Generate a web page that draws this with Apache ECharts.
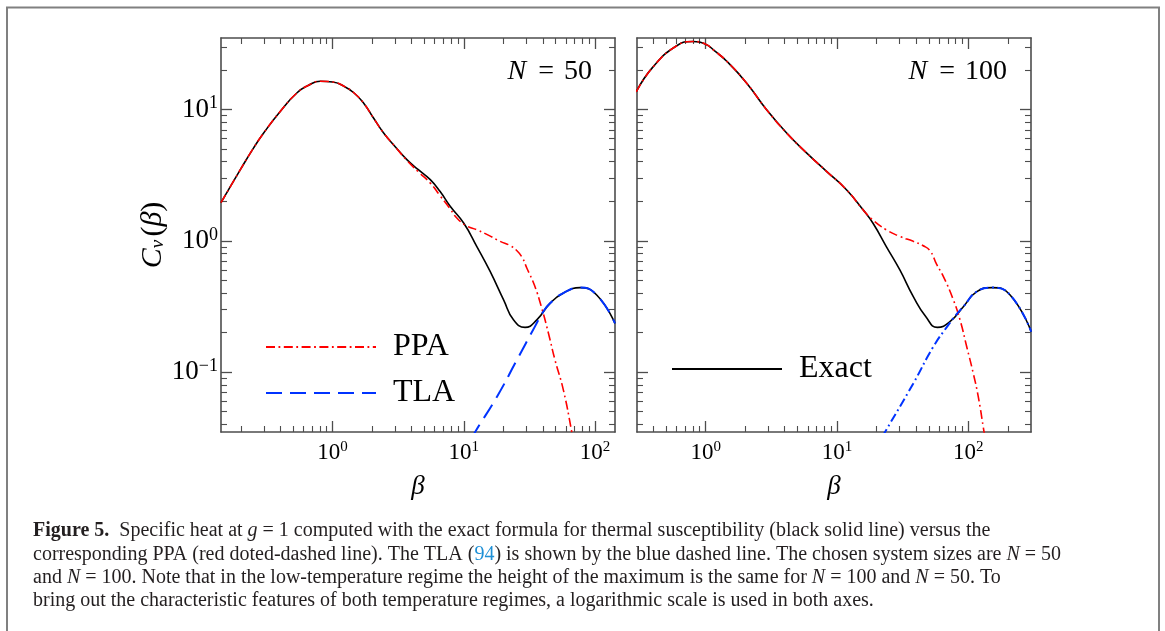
<!DOCTYPE html>
<html>
<head>
<meta charset="utf-8">
<style>
  html, body { margin: 0; padding: 0; background: #fff; }
  #chart { width: 1165px; height: 631px; }
</style>
<script src="https://cdn.jsdelivr.net/npm/echarts@6/dist/echarts.min.js"></script>
</head>
<body>
<div id="chart"></div>
<script>
"use strict";

// ---- values: beta and C_v(beta) ----
// N = 50 panel
const betaExact50 = [0.141, 0.198, 0.25, 0.299, 0.4, 0.536, 0.65, 0.805, 1.0, 1.21, 1.45, 1.72, 2.05, 2.44, 3.0, 3.68, 4.5, 5.55, 6.6, 7.87, 10.0, 12.6, 15.8, 20.1, 23.9, 29.3, 36.0, 45.4, 57.4, 76.9, 103, 142];
const cvExact50 = [1.95, 3.48, 5.1, 6.64, 9.7, 13.4, 15.2, 16.4, 16.2, 15.1, 13.4, 11.2, 8.6, 6.65, 5.2, 4.15, 3.48, 2.92, 2.37, 1.83, 1.36, 0.9, 0.59, 0.355, 0.25, 0.219, 0.25, 0.334, 0.4, 0.44, 0.387, 0.235];

const betaPpa50 = [0.141, 0.198, 0.25, 0.299, 0.4, 0.536, 0.65, 0.805, 1.0, 1.21, 1.45, 1.72, 2.05, 2.44, 3.0, 3.68, 4.5, 5.55, 6.6, 7.87, 8.85, 10.5, 12.6, 15.5, 18.9, 22.5, 25.4, 28.0, 30.2, 34.5, 39.3, 44.2, 49.5, 57.4, 66.5, 70];
const cvPpa50 = [1.95, 3.48, 5.1, 6.64, 9.7, 13.4, 15.2, 16.4, 16.2, 15.1, 13.4, 11.2, 8.6, 6.65, 5.2, 4.1, 3.35, 2.75, 2.2, 1.75, 1.49, 1.3, 1.21, 1.1, 0.99, 0.92, 0.84, 0.74, 0.62, 0.46, 0.306, 0.197, 0.124, 0.073, 0.035, 0.026];

const betaTla50 = [11.5, 12.2, 17.9, 25.4, 34.8, 40.0, 45.4, 57.4, 76.9, 103, 142];
const cvTla50 = [0.031, 0.035, 0.065, 0.124, 0.222, 0.285, 0.334, 0.4, 0.44, 0.387, 0.235];

// N = 100 panel
const betaExact100 = [0.296, 0.396, 0.598, 0.8, 1.0, 1.17, 1.44, 2.04, 2.9, 4.12, 5.86, 8.32, 11.8, 15.8, 18.8, 23.8, 30.1, 38.1, 47.5, 58.1, 72.4, 91.6, 116, 151, 208, 301];
const cvExact100 = [13.6, 21.0, 30.4, 32.9, 31.4, 27.9, 23.4, 16.0, 10.0, 6.64, 4.67, 3.38, 2.45, 1.72, 1.36, 0.9, 0.6, 0.376, 0.264, 0.219, 0.242, 0.315, 0.41, 0.44, 0.387, 0.203];

const betaPpa100 = [0.296, 0.396, 0.598, 0.8, 1.0, 1.17, 1.44, 2.04, 2.9, 4.12, 5.86, 8.32, 11.8, 15.8, 18.3, 23.8, 30.0, 38.1, 45.0, 51.1, 57.4, 64.6, 76.9, 86.5, 97.2, 109, 119, 130, 135];
const cvPpa100 = [13.6, 21.0, 30.4, 32.9, 31.4, 27.9, 23.4, 16.0, 10.0, 6.64, 4.67, 3.38, 2.45, 1.72, 1.47, 1.21, 1.08, 0.99, 0.92, 0.84, 0.66, 0.534, 0.355, 0.249, 0.156, 0.098, 0.065, 0.038, 0.03];

const betaTla100 = [22, 23.2, 38.1, 54.1, 70.5, 80, 91.6, 116, 151, 208, 301];
const cvTla100 = [0.032, 0.035, 0.082, 0.156, 0.229, 0.27, 0.315, 0.41, 0.44, 0.387, 0.203];

// axis limits and tick positions
const xLimits50 = [0.141, 142];
const xLimits100 = [0.3, 300];
const yLimits = [0.035, 35];
const decadeExponents = [-2, -1, 0, 1, 2, 3];
const minorMultipliers = [2, 3, 4, 5, 6, 7, 8, 9];

const panelLabels = ["50", "100"];

const captionLines = [
  [["b", "Figure 5."], ["r", "  Specific heat at "], ["i", "g"], ["r", " = 1 computed with the exact formula for thermal susceptibility (black solid line) versus the"]],
  [["r", "corresponding PPA (red doted-dashed line). The TLA ("], ["l", "94"], ["r", ") is shown by the blue dashed line. The chosen system sizes are "], ["i", "N"], ["r", " = 50"]],
  [["r", "and "], ["i", "N"], ["r", " = 100. Note that in the low-temperature regime the height of the maximum is the same for "], ["i", "N"], ["r", " = 100 and "], ["i", "N"], ["r", " = 50. To"]],
  [["r", "bring out the characteristic features of both temperature regimes, a logarithmic scale is used in both axes."]],
];

const SERIF = "'Liberation Serif', 'DejaVu Serif', serif";
const AXIS_COLOR = "#4d4d4d";

const lg = Math.log10;
const toPoints = (xs, ys) => xs.map((x, i) => [lg(x), lg(ys[i])]);

const majorTicks = (lim) =>
  decadeExponents.filter((e) => e >= lg(lim[0]) && e <= lg(lim[1]));

const minorTicks = (lim) => {
  const out = [];
  decadeExponents.forEach((e) =>
    minorMultipliers.forEach((m) => {
      const v = e + lg(m);
      if (v > lg(lim[0]) && v < lg(lim[1])) out.push(v);
    })
  );
  return out;
};

const powerLabel = (v) => {
  const e = Math.round(v);
  return "{b|10}{s|" + (e < 0 ? "\u2212" + -e : e) + "}";
};

const powerRich = (size, sup) => ({
  b: { fontFamily: SERIF, fontSize: size, lineHeight: size + 3, color: "#000" },
  s: { fontFamily: SERIF, fontSize: sup, lineHeight: sup, verticalAlign: "top", color: "#000" },
});

const xAxes = [];
const yAxes = [];

// one side of a panel frame: major ticks (+ labels) and a second axis for minor ticks
function sideAxes(list, gridIndex, lim, position, extra) {
  const base = {
    type: "value",
    gridIndex: gridIndex,
    position: position,
    min: lg(lim[0]),
    max: lg(lim[1]),
    splitLine: { show: false },
  };
  list.push(Object.assign({}, base, {
    axisLine: { show: true, onZero: false, lineStyle: { color: AXIS_COLOR, width: 1.6 } },
    axisTick: { show: true, inside: true, length: 11, customValues: majorTicks(lim), lineStyle: { color: AXIS_COLOR, width: 1.3 } },
    axisLabel: { show: false },
  }, extra || {}));
  const major = list.length - 1;
  list.push(Object.assign({}, base, {
    axisLine: { show: false, onZero: false },
    axisTick: { show: true, inside: true, length: 6, customValues: minorTicks(lim), lineStyle: { color: AXIS_COLOR, width: 1.1 } },
    axisLabel: { show: false },
  }));
  return major;
}

const bottomLabels = (lim) => ({
  axisLabel: { show: true, margin: 8, customValues: majorTicks(lim), formatter: powerLabel, rich: powerRich(23, 15) },
  name: "{i|\u03b2}",
  nameLocation: "middle",
  nameGap: 41,
  nameTextStyle: { rich: { i: { fontFamily: SERIF, fontStyle: "italic", fontSize: 27, color: "#000" } } },
});

const leftLabels = (lim) => ({
  axisLabel: { show: true, margin: 3, customValues: majorTicks(lim), formatter: powerLabel, rich: powerRich(27, 18) },
  name: "{i|C}{v|v} {t|(}{i|\u03b2}{t|)}",
  nameLocation: "middle",
  nameRotate: 90,
  nameGap: 48,
  nameTextStyle: {
    rich: {
      i: { fontFamily: SERIF, fontStyle: "italic", fontSize: 30, color: "#000" },
      v: { fontFamily: SERIF, fontStyle: "italic", fontSize: 19, color: "#000", verticalAlign: "bottom", lineHeight: 26 },
      t: { fontFamily: SERIF, fontSize: 30, color: "#000" },
    },
  },
});

const xLimits = [xLimits50, xLimits100];
const axisIndex = xLimits.map((lim, g) => {
  const x = sideAxes(xAxes, g, lim, "bottom", bottomLabels(lim));
  sideAxes(xAxes, g, lim, "top");
  const y = sideAxes(yAxes, g, yLimits, "left", g === 0 ? leftLabels(yLimits) : null);
  sideAxes(yAxes, g, yLimits, "right");
  return { x, y };
});

const DASH_DOT = [9, 3.5, 1.8, 3.5];
const DASHED = [16, 8];

function curve(name, g, xs, ys, color, dash, width, z) {
  return {
    type: "line",
    name: name,
    xAxisIndex: axisIndex[g].x,
    yAxisIndex: axisIndex[g].y,
    data: toPoints(xs, ys),
    symbol: "none",
    showSymbol: false,
    smooth: 0.5,
    clip: true,
    silent: true,
    z: z,
    lineStyle: { color: color, width: width, type: dash },
    itemStyle: { color: color },
  };
}

const series = [
  curve("Exact", 0, betaExact50, cvExact50, "#000000", "solid", 1.6, 2),
  curve("PPA", 0, betaPpa50, cvPpa50, "#ff0000", DASH_DOT, 1.6, 3),
  curve("TLA", 0, betaTla50, cvTla50, "#0033ff", DASHED, 2, 4),
  curve("Exact", 1, betaExact100, cvExact100, "#000000", "solid", 1.6, 2),
  curve("PPA", 1, betaPpa100, cvPpa100, "#ff0000", DASH_DOT, 1.6, 3),
  curve("TLA", 1, betaTla100, cvTla100, "#0033ff", DASH_DOT, 2, 4),
];

// graphic text uses zrender style names (fill, not color)
const CAPTION_SIZE = 20;
const captionRich = {
  r: { fontFamily: SERIF, fontSize: CAPTION_SIZE, fill: "#231f20" },
  i: { fontFamily: SERIF, fontSize: CAPTION_SIZE, fontStyle: "italic", fill: "#231f20" },
  b: { fontFamily: SERIF, fontSize: CAPTION_SIZE, fontWeight: "bold", fill: "#231f20" },
  l: { fontFamily: SERIF, fontSize: CAPTION_SIZE, fill: "#1e90d6" },
};

const graphic = [
  {
    type: "rect",
    silent: true,
    shape: { x: 7, y: 7.5, width: 1152, height: 660 },
    style: { fill: "none", stroke: "#808080", lineWidth: 2 },
  },
].concat(
  captionLines.map((line, k) => ({
    type: "text",
    silent: true,
    x: 33,
    y: 531 + k * 23.3,
    style: {
      text: line.map((seg) => "{" + seg[0] + "|" + seg[1] + "}").join(""),
      rich: captionRich,
      fill: "#231f20",
      verticalAlign: "middle",
    },
  }))
);

const legendText = { fontFamily: SERIF, fontSize: 32, lineHeight: 34, color: "#000", padding: [0, 0, 0, 12] };
const legendBase = {
  orient: "vertical",
  padding: 0,
  itemWidth: 110,
  itemHeight: 14,
  itemGap: 12,
  selectedMode: false,
  itemStyle: { opacity: 0, borderWidth: 0 },
  textStyle: legendText,
};

const panelTextRich = {
  i: { fontFamily: SERIF, fontStyle: "italic", fontSize: 28, lineHeight: 30, color: "#000", padding: [0, 2, 0, 0] },
  e: { fontFamily: SERIF, fontSize: 28, lineHeight: 30, color: "#000", padding: [0, 10, 0, 10] },
  n: { fontFamily: SERIF, fontSize: 28, lineHeight: 30, color: "#000" },
};

const chart = echarts.init(document.getElementById("chart"), null, { width: 1165, height: 631 });

chart.setOption({
  animation: false,
  backgroundColor: "#ffffff",
  grid: [
    { left: 221, top: 38, width: 394, height: 394, outerBoundsMode: "none" },
    { left: 637, top: 38, width: 394, height: 394, outerBoundsMode: "none" },
  ],
  xAxis: xAxes,
  yAxis: yAxes,
  title: panelLabels.map((n, g) => ({
    text: "{i|N}{e|=}{n|" + n + "}",
    right: g === 0 ? 573 : 158,
    top: 57,
    padding: 0,
    textStyle: { rich: panelTextRich, fontFamily: SERIF, fontSize: 28, lineHeight: 30, fontWeight: "normal", color: "#000" },
  })),
  legend: [
    Object.assign({ data: ["PPA", "TLA"], left: 265, top: 330 }, legendBase),
    Object.assign({ data: ["Exact"], left: 671, top: 352 }, legendBase),
  ],
  graphic: graphic,
  series: series,
});
</script>
</body>
</html>
